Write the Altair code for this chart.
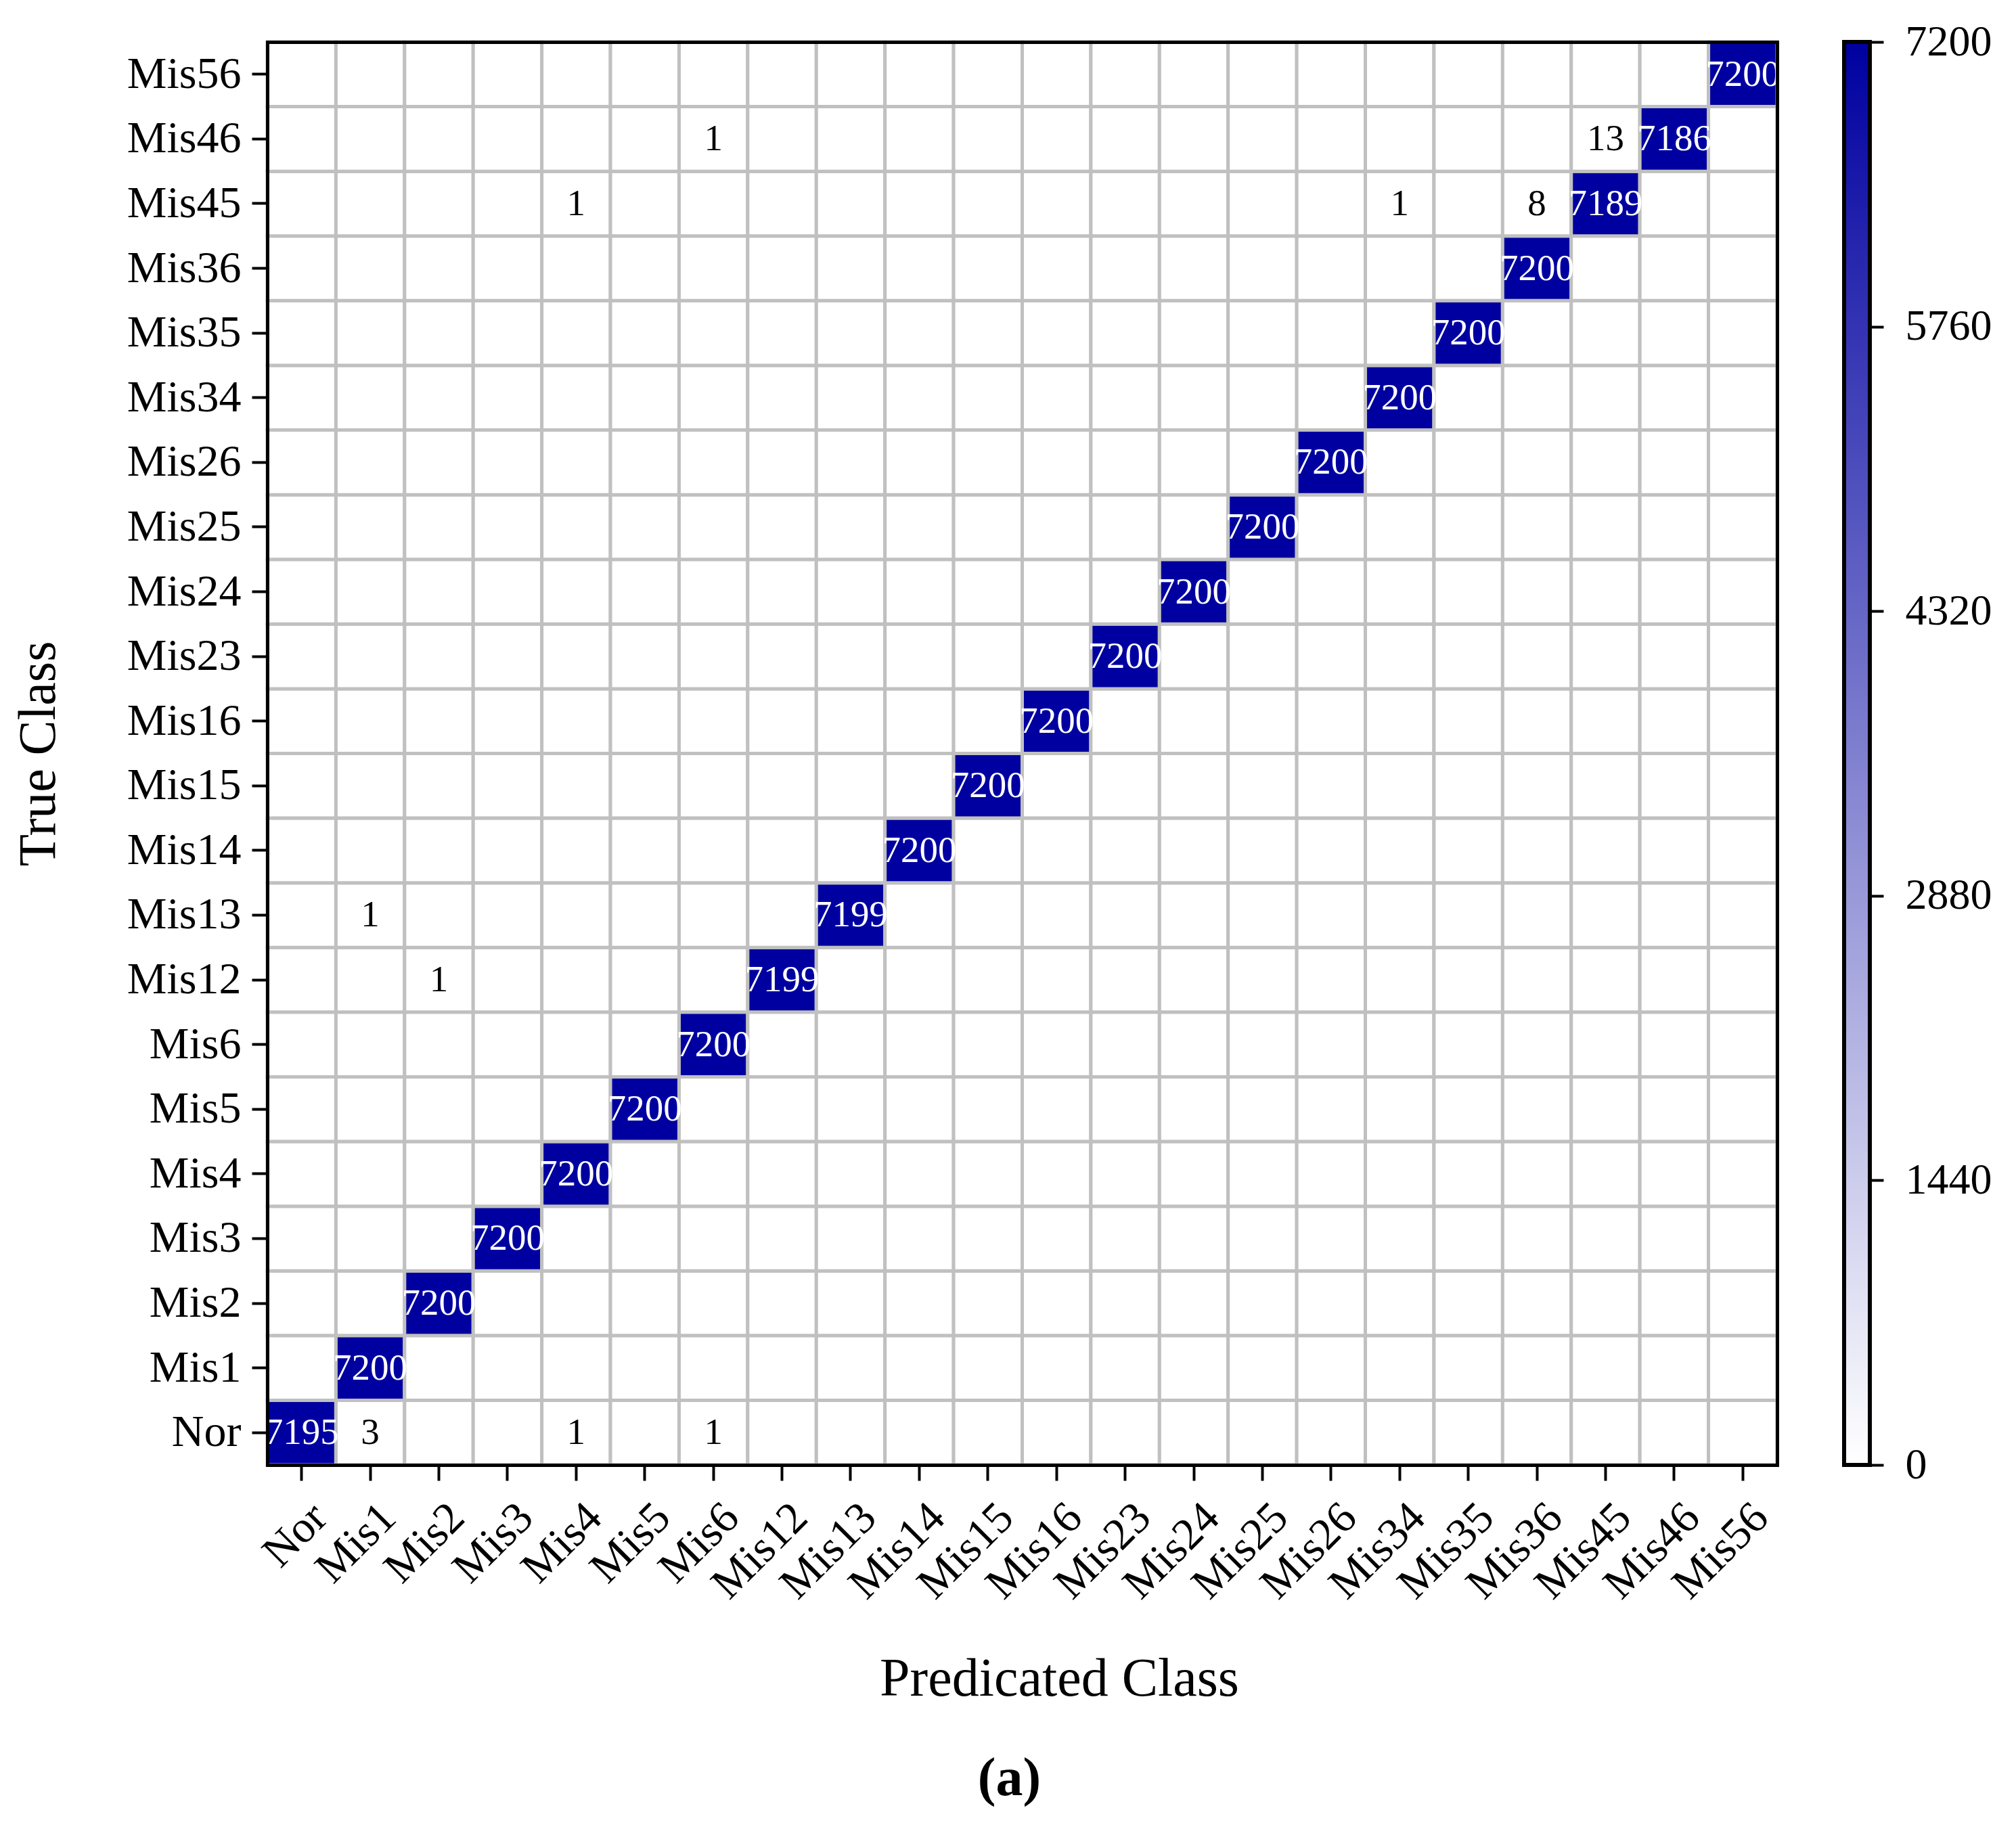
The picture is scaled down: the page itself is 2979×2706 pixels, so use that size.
import altair as alt
import pandas as pd

classes = ["Nor", "Mis1", "Mis2", "Mis3", "Mis4", "Mis5", "Mis6", "Mis12", "Mis13",
           "Mis14", "Mis15", "Mis16", "Mis23", "Mis24", "Mis25", "Mis26", "Mis34",
           "Mis35", "Mis36", "Mis45", "Mis46", "Mis56"]
diagonal = [7195, 7200, 7200, 7200, 7200, 7200, 7200, 7199, 7199, 7200, 7200, 7200,
            7200, 7200, 7200, 7200, 7200, 7200, 7200, 7189, 7186, 7200]
off_true = ["Nor", "Nor", "Nor", "Mis12", "Mis13", "Mis45", "Mis45", "Mis45", "Mis46", "Mis46"]
off_pred = ["Mis1", "Mis4", "Mis6", "Mis2", "Mis1", "Mis4", "Mis34", "Mis36", "Mis6", "Mis45"]
off_vals = [3, 1, 1, 1, 1, 1, 1, 8, 1, 13]
cbar_ticks = [0, 1440, 2880, 4320, 5760, 7200]

FONT = "Liberation Serif"
BLUE = "#0000A0"

vals = {}
for t in classes:
    for p in classes:
        vals[(t, p)] = 0
for c, v in zip(classes, diagonal):
    vals[(c, c)] = v
for t, p, v in zip(off_true, off_pred, off_vals):
    vals[(t, p)] = v
df = pd.DataFrame([{"true": t, "pred": p, "value": v} for (t, p), v in vals.items()])

W, H = 2231, 2103
band = alt.Scale(paddingInner=0, paddingOuter=0)
frame = dict(domain=True, domainColor="black", domainWidth=5, domainCap="square", zindex=1)

xenc = alt.X("pred:N", sort=classes, scale=band,
             axis=alt.Axis(title="Predicated Class", labelAngle=-45, labelAlign="right",
                           labelBaseline="middle", labelPadding=44, labelOffset=27,
                           titlePadding=77, titleX=1170, titleAnchor="middle",
                           titleFontSize=80, **frame))
yenc = alt.Y("true:N", sort=classes[::-1], scale=band,
             axis=alt.Axis(title="True Class", labelPadding=16, titlePadding=99, **frame))

cells = alt.Chart(df).mark_rect(stroke="#C0C0C0", strokeWidth=5).encode(
    x=xenc, y=yenc,
    color=alt.Color("value:Q", scale=alt.Scale(domain=[0, 7200], range=["#FFFFFF", BLUE],
                                               interpolate="rgb"),
                    legend=None),
)
texts = alt.Chart(df).transform_filter("datum.value > 0").mark_text(
    font=FONT, fontSize=55, baseline="middle", align="center").encode(
    x=alt.X("pred:N", sort=classes, scale=band,
            axis=alt.Axis(orient="top", labels=False, ticks=False, title=None, **frame)),
    y=alt.Y("true:N", sort=classes[::-1], scale=band,
            axis=alt.Axis(orient="right", labels=False, ticks=False, title=None, **frame)),
    text="value:Q",
    color=alt.condition("datum.value > 3600", alt.value("white"), alt.value("black")),
)
heat = alt.layer(cells, texts).resolve_axis(x="independent", y="independent").properties(
    width=W, height=H,
    title=alt.TitleParams("(a)", orient="bottom", fontSize=80, font=FONT,
                          fontWeight="bold", offset=69, dx=-19),
)

cb_df = pd.DataFrame({"x0": [0], "x1": [1], "lo": [0], "hi": [7200]})
cbar = alt.Chart(cb_df).mark_rect(
    stroke="black", strokeWidth=6,
    color=alt.Gradient(gradient="linear",
                       stops=[alt.GradientStop(color="#FFFFFF", offset=0),
                              alt.GradientStop(color=BLUE, offset=1)],
                       x1=0, x2=0, y1=1, y2=0)
).encode(
    x=alt.X("x0:Q", scale=alt.Scale(domain=[0, 1], nice=False), axis=None),
    x2="x1:Q",
    y=alt.Y("lo:Q", scale=alt.Scale(domain=[0, 7200], nice=False),
            axis=alt.Axis(orient="right", values=cbar_ticks, title=None, format="d",
                          tickSize=20, labelPadding=32, labelFontSize=64)),
    y2="hi:Q",
).properties(width=38, height=H)

chart = alt.hconcat(heat, cbar, spacing=91).properties(
    padding={"left": 10, "top": 22, "right": 5, "bottom": 5},
    background="white",
).configure_view(
    stroke=None
).configure_axis(
    labelFont=FONT, titleFont=FONT, labelFontSize=66, titleFontSize=78,
    titleFontWeight="normal", labelColor="black", titleColor="black",
    tickSize=23, tickWidth=4, tickColor="black", domain=False, grid=False,
)

chart.save("out.html", embed_options={"renderer": "svg", "actions": False})
